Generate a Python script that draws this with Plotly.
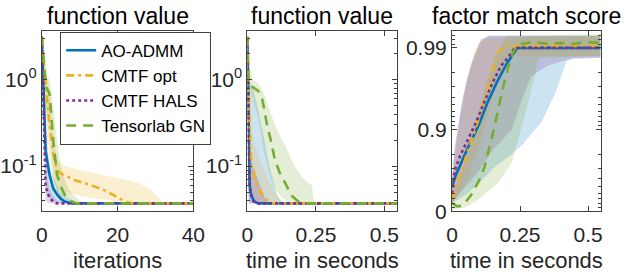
import numpy as np
import plotly.graph_objects as go

# ---------------- data ----------------
series_names = ["AO-ADMM", "CMTF opt", "CMTF HALS", "Tensorlab GN"]

# Panel 1: function value vs iterations (median lines)
it_ao = [0, 1, 2, 3, 4, 5, 6, 7, 8, 40]
fv_it_ao = [3.0, 0.15, 0.08, 0.055, 0.047, 0.042, 0.039, 0.038, 0.037, 0.037]
it_opt = [0, 1, 2, 3, 4, 5, 7, 9, 12, 16, 19, 22, 24, 40]
fv_it_opt = [3.0, 0.9, 0.3, 0.14, 0.09, 0.082, 0.074, 0.068, 0.062, 0.054, 0.046, 0.039, 0.037, 0.037]
it_hals = [0, 1, 2, 3, 4, 40]
fv_it_hals = [3.0, 0.058, 0.043, 0.039, 0.037, 0.037]
it_gn = [0, 1, 2, 3, 4, 5, 6, 7, 9, 40]
fv_it_gn = [3.2, 0.85, 0.7, 0.2, 0.08, 0.058, 0.047, 0.041, 0.037, 0.037]

# Panel 1 bands (lower / upper)
it_ao_lo = [0, 1, 2, 3, 4, 40]
fv_it_ao_lo = [2.5, 0.05, 0.042, 0.039, 0.037, 0.037]
it_ao_hi = [0, 1, 2, 3, 4, 5, 6, 8, 10, 12, 40]
fv_it_ao_hi = [3.3, 0.3, 0.1, 0.075, 0.06, 0.05, 0.045, 0.04, 0.038, 0.037, 0.037]
it_opt_lo = [0, 1, 2, 3, 4, 6, 10, 14, 18, 20, 40]
fv_it_opt_lo = [2.5, 0.4, 0.12, 0.07, 0.055, 0.05, 0.045, 0.042, 0.04, 0.037, 0.037]
it_opt_hi = [0, 1, 2, 3, 4, 6, 10, 14, 18, 22, 26, 29, 31, 32, 40]
fv_it_opt_hi = [3.4, 1.5, 0.7, 0.25, 0.12, 0.1, 0.09, 0.082, 0.076, 0.07, 0.062, 0.052, 0.042, 0.037, 0.037]
it_hals_lo = [0, 1, 2, 40]
fv_it_hals_lo = [2.5, 0.04, 0.037, 0.037]
it_hals_hi = [0, 1, 2, 3, 4, 6, 40]
fv_it_hals_hi = [3.3, 0.09, 0.055, 0.045, 0.04, 0.037, 0.037]
it_gn_lo = [0, 1, 2, 3, 4, 5, 6, 7, 40]
fv_it_gn_lo = [2.8, 0.5, 0.25, 0.08, 0.05, 0.042, 0.038, 0.037, 0.037]
it_gn_hi = [0, 1, 2, 3, 4, 5, 6, 7, 8, 10, 12, 40]
fv_it_gn_hi = [3.5, 1.3, 1.0, 0.5, 0.2, 0.1, 0.07, 0.055, 0.048, 0.04, 0.037, 0.037]

# Panel 2: function value vs time in seconds
t_ao = [0, 0.005, 0.008, 0.015, 0.025, 0.04, 0.546]
fv_t_ao = [3.0, 0.3, 0.06, 0.045, 0.039, 0.037, 0.037]
t_opt = [0, 0.005, 0.01, 0.015, 0.025, 0.035, 0.05, 0.065, 0.085, 0.546]
fv_t_opt = [3.0, 0.6, 0.2, 0.1, 0.075, 0.06, 0.048, 0.042, 0.037, 0.037]
t_hals = [0, 0.005, 0.01, 0.02, 0.03, 0.546]
fv_t_hals = [3.0, 0.15, 0.05, 0.04, 0.037, 0.037]
t_gn = [0, 0.004, 0.01, 0.04, 0.055, 0.07, 0.085, 0.1, 0.12, 0.14, 0.16, 0.185, 0.2, 0.546]
fv_t_gn = [3.2, 1.0, 0.86, 0.74, 0.58, 0.32, 0.2, 0.12, 0.08, 0.062, 0.046, 0.039, 0.037, 0.037]

# Panel 2 bands
t_ao_lo = [0, 0.005, 0.01, 0.546]
fv_t_ao_lo = [2.5, 0.04, 0.037, 0.037]
t_ao_hi = [0, 0.005, 0.02, 0.04, 0.06, 0.08, 0.095, 0.11, 0.13, 0.546]
fv_t_ao_hi = [3.3, 1.0, 0.8, 0.45, 0.22, 0.1, 0.065, 0.045, 0.037, 0.037]
t_opt_lo = [0, 0.005, 0.01, 0.02, 0.035, 0.05, 0.546]
fv_t_opt_lo = [2.5, 0.15, 0.06, 0.045, 0.04, 0.037, 0.037]
t_opt_hi = [0, 0.005, 0.01, 0.02, 0.04, 0.06, 0.08, 0.1, 0.12, 0.135, 0.546]
fv_t_opt_hi = [3.3, 1.2, 0.5, 0.2, 0.13, 0.09, 0.065, 0.05, 0.042, 0.037, 0.037]
t_hals_lo = [0, 0.004, 0.546]
fv_t_hals_lo = [2.5, 0.037, 0.037]
t_hals_hi = [0, 0.005, 0.01, 0.02, 0.035, 0.05, 0.065, 0.075, 0.546]
fv_t_hals_hi = [3.3, 0.5, 0.15, 0.1, 0.075, 0.055, 0.042, 0.037, 0.037]
t_gn_lo = [0, 0.005, 0.02, 0.04, 0.06, 0.08, 0.1, 0.12, 0.14, 0.16, 0.546]
fv_t_gn_lo = [2.8, 0.8, 0.6, 0.35, 0.15, 0.08, 0.055, 0.045, 0.04, 0.037, 0.037]
t_gn_hi = [0, 0.005, 0.02, 0.04, 0.06, 0.08, 0.1, 0.12, 0.14, 0.16, 0.18, 0.2, 0.22, 0.235, 0.24, 0.245, 0.546]
fv_t_gn_hi = [3.5, 1.5, 1.0, 0.9, 0.7, 0.45, 0.3, 0.22, 0.17, 0.12, 0.09, 0.075, 0.065, 0.06, 0.045, 0.037, 0.037]

# Panel 3: factor match score vs time in seconds
s_ao = [0, 0.015, 0.06, 0.1, 0.13, 0.165, 0.2, 0.225, 0.24, 0.546]
fms_ao = [0.4988, 0.6452, 0.8378, 0.9149, 0.9532, 0.9737, 0.9842, 0.9883, 0.99, 0.99]
s_opt = [0, 0.025, 0.06, 0.1, 0.13, 0.155, 0.175, 0.2, 0.546]
fms_opt = [0.2921, 0.6019, 0.8222, 0.9292, 0.9684, 0.9842, 0.9893, 0.9905, 0.9905]
s_hals = [0, 0.01, 0.03, 0.06, 0.09, 0.12, 0.15, 0.18, 0.21, 0.23, 0.546]
fms_hals = [0.3974, 0.6838, 0.7911, 0.8741, 0.9206, 0.9553, 0.9737, 0.9834, 0.9874, 0.99, 0.99]
s_gn = [0, 0.02, 0.04, 0.07, 0.1, 0.12, 0.15, 0.17, 0.19, 0.21, 0.225, 0.24, 0.3, 0.35, 0.4, 0.45, 0.5, 0.546]
fms_gn = [0.2057, 0.1290, 0.1489, 0.3690, 0.5831, 0.7182, 0.8878, 0.9438, 0.9718, 0.9842, 0.9888,
          0.9909, 0.9915, 0.9911, 0.9913, 0.9911, 0.9915, 0.9913]

# Panel 3 bands
s_ao_lo = [0, 0.05, 0.1, 0.16, 0.22, 0.26, 0.33, 0.38, 0.42, 0.445, 0.546]
fms_ao_lo = [0.2057, 0.3690, 0.5533, 0.7182, 0.8005, 0.8486, 0.9206, 0.9645, 0.9852, 0.9868, 0.9868]
s_ao_hi = [0, 0.007, 0.03, 0.053, 0.085, 0.106, 0.14, 0.546]
fms_ao_hi = [0.6019, 0.7862, 0.9369, 0.9749, 0.9880, 0.9921, 0.9929, 0.9929]
s_opt_lo = [0, 0.05, 0.1, 0.15, 0.2, 0.22, 0.546]
fms_opt_lo = [0.1682, 0.5533, 0.8415, 0.9602, 0.9859, 0.9874, 0.9874]
s_opt_hi = [0, 0.02, 0.05, 0.08, 0.11, 0.546]
fms_opt_hi = [0.6019, 0.8741, 0.9684, 0.9888, 0.9924, 0.9929]
s_hals_lo = [0, 0.05, 0.1, 0.15, 0.22, 0.26, 0.29, 0.35, 0.43, 0.546]
fms_hals_lo = [0.2057, 0.4988, 0.6838, 0.8222, 0.9, 0.9602, 0.9776, 0.9834, 0.9862, 0.9868]
s_hals_hi = [0, 0.01, 0.04, 0.07, 0.1, 0.13, 0.546]
fms_hals_hi = [0.5533, 0.8415, 0.9602, 0.9842, 0.9911, 0.9929, 0.9929]
s_gn_lo = [0, 0.05, 0.1, 0.17, 0.22, 0.27, 0.32, 0.546]
fms_gn_lo = [0.0450, 0.1087, 0.2921, 0.5533, 0.7488, 0.9369, 0.9868, 0.9874]
s_gn_hi = [0, 0.04, 0.08, 0.12, 0.16, 0.2, 0.546]
fms_gn_hi = [0.3690, 0.6838, 0.9, 0.9684, 0.9874, 0.9929, 0.9932]

# tick labels
fms_ticks = [0, 0.9, 0.99]
fms_ticktext = ["0", "0.9", "0.99"]
fms_minor = [0.1, 0.2, 0.3, 0.4, 0.5, 0.6, 0.7, 0.8, 0.91, 0.92, 0.93, 0.94, 0.95, 0.96,
             0.97, 0.98, 0.991, 0.992, 0.993]
fv_ticks = [0.1, 1]
fv_ticktext = ["10<sup>-1</sup>", "10<sup>0</sup>"]
fv_minor = [0.03, 0.04, 0.05, 0.06, 0.07, 0.08, 0.09, 0.2, 0.3, 0.4, 0.5, 0.6, 0.7, 0.8, 0.9, 2, 3]

# ---------------- styling ----------------
colors = ["#0072BD", "#EDB120", "#7E2F8E", "#77AC30"]
fills = ["rgba(0,114,189,0.2)", "rgba(237,177,32,0.2)", "rgba(126,47,142,0.2)", "rgba(119,172,48,0.2)"]
dashes = ["solid", "8px,4px,3px,4px", "3px,3px", "10px,7px"]
LW = 2.6
FONT = "Liberation Sans, Arial, Helvetica, sans-serif"
AX = "#404040"


def fms_t(v):
    # score axis: -log10(1 - score)
    return (-np.log10(1.0 - np.asarray(v, dtype=float))).tolist()


fig = go.Figure()

panels = [
    dict(xa="x", ya="y",
         lines=[(it_ao, fv_it_ao), (it_opt, fv_it_opt), (it_hals, fv_it_hals), (it_gn, fv_it_gn)],
         bands=[(it_ao_lo, fv_it_ao_lo, it_ao_hi, fv_it_ao_hi),
                (it_opt_lo, fv_it_opt_lo, it_opt_hi, fv_it_opt_hi),
                (it_hals_lo, fv_it_hals_lo, it_hals_hi, fv_it_hals_hi),
                (it_gn_lo, fv_it_gn_lo, it_gn_hi, fv_it_gn_hi)],
         tf=lambda v: list(v)),
    dict(xa="x2", ya="y2",
         lines=[(t_ao, fv_t_ao), (t_opt, fv_t_opt), (t_hals, fv_t_hals), (t_gn, fv_t_gn)],
         bands=[(t_ao_lo, fv_t_ao_lo, t_ao_hi, fv_t_ao_hi),
                (t_opt_lo, fv_t_opt_lo, t_opt_hi, fv_t_opt_hi),
                (t_hals_lo, fv_t_hals_lo, t_hals_hi, fv_t_hals_hi),
                (t_gn_lo, fv_t_gn_lo, t_gn_hi, fv_t_gn_hi)],
         tf=lambda v: list(v)),
    dict(xa="x3", ya="y3",
         lines=[(s_ao, fms_ao), (s_opt, fms_opt), (s_hals, fms_hals), (s_gn, fms_gn)],
         bands=[(s_ao_lo, fms_ao_lo, s_ao_hi, fms_ao_hi),
                (s_opt_lo, fms_opt_lo, s_opt_hi, fms_opt_hi),
                (s_hals_lo, fms_hals_lo, s_hals_hi, fms_hals_hi),
                (s_gn_lo, fms_gn_lo, s_gn_hi, fms_gn_hi)],
         tf=fms_t),
]

for pi, p in enumerate(panels):
    for k, (xl, yl, xh, yh) in enumerate(p["bands"]):
        fig.add_trace(go.Scatter(
            x=list(xl) + list(xh)[::-1], y=p["tf"](yl) + p["tf"](yh)[::-1],
            xaxis=p["xa"], yaxis=p["ya"], mode="lines", fill="toself",
            fillcolor=fills[k], line=dict(width=0), showlegend=False, hoverinfo="skip"))
    for k, (xv, yv) in enumerate(p["lines"]):
        fig.add_trace(go.Scatter(
            x=xv, y=p["tf"](yv), xaxis=p["xa"], yaxis=p["ya"], mode="lines",
            name=series_names[k], showlegend=(pi == 0),
            line=dict(color=colors[k], width=LW, dash=dashes[k])))

W, H = 630, 278
xdom = [(33, 190), (246, 401), (458, 612)]
ydom = [1 - 220 / H, 1 - 32 / H]

common = dict(showline=True, linecolor=AX, linewidth=1, mirror="ticks", ticks="inside",
              ticklen=5, tickcolor=AX, showgrid=False, zeroline=False,
              tickfont=dict(size=21, color="#262626", family=FONT))
xcommon = dict(common, ticklabelstandoff=5)

fv_range = [np.log10(0.030), np.log10(3.69)]
minor_fv = dict(tickvals=fv_minor, ticks="inside", ticklen=3, tickcolor=AX, showgrid=False)
minor_fms = dict(tickvals=fms_t(fms_minor), ticks="inside", ticklen=3, tickcolor=AX, showgrid=False)

fig.update_layout(
    width=W, height=H, margin=dict(l=0, r=0, t=0, b=0),
    paper_bgcolor="white", plot_bgcolor="white",
    font=dict(family=FONT, color="#262626"),
    xaxis=dict(xcommon, domain=[xdom[0][0] / W, xdom[0][1] / W], anchor="y", range=[0, 40],
               tickvals=[0, 20, 40], ticktext=["0", "20", "40"]),
    yaxis=dict(common, domain=ydom, anchor="x", type="log", range=fv_range,
               tickvals=fv_ticks, ticktext=fv_ticktext, minor=minor_fv),
    xaxis2=dict(xcommon, domain=[xdom[1][0] / W, xdom[1][1] / W], anchor="y2", range=[0, 0.546],
                tickvals=[0, 0.25, 0.5], ticktext=["0", "0.25", "0.5"]),
    yaxis2=dict(common, domain=ydom, anchor="x2", type="log", range=fv_range,
                tickvals=fv_ticks, ticktext=fv_ticktext, minor=minor_fv),
    xaxis3=dict(xcommon, domain=[xdom[2][0] / W, xdom[2][1] / W], anchor="y3", range=[0, 0.546],
                tickvals=[0, 0.25, 0.5], ticktext=["0", "0.25", "0.5"]),
    yaxis3=dict(common, domain=ydom, anchor="x3", range=[0, 2.21],
                tickvals=fms_t(fms_ticks), ticktext=fms_ticktext, minor=minor_fms),
    legend=dict(x=52 / W, y=1 - 33 / H, xanchor="left", yanchor="top",
                bgcolor="white", bordercolor=AX, borderwidth=1,
                font=dict(size=17, color="#000000", family=FONT), tracegroupgap=0),
    showlegend=True,
)

titles = ["function value", "function value", "factor match score"]
xlabels = ["iterations", "time in seconds", "time in seconds"]
for i in range(3):
    cx = (xdom[i][0] + xdom[i][1]) / 2 / W
    fig.add_annotation(x=cx, y=1 - 17 / H, xref="paper", yref="paper", text=titles[i],
                       showarrow=False, xanchor="center", yanchor="middle",
                       font=dict(size=23, color="#000000", family=FONT))
    fig.add_annotation(x=cx, y=1 - 271 / H, xref="paper", yref="paper", text=xlabels[i],
                       showarrow=False, xanchor="center", yanchor="middle",
                       font=dict(size=22, color="#262626", family=FONT))

fig.write_html("out.html", config={"displayModeBar": False})
